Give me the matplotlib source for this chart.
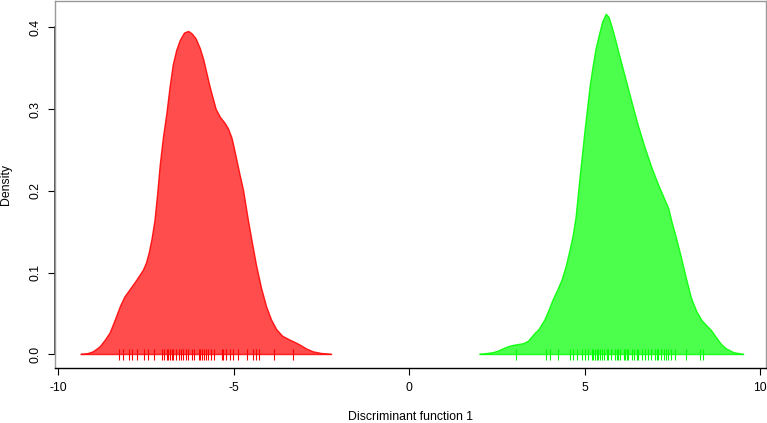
import matplotlib
matplotlib.use("Agg")
import matplotlib.pyplot as plt

plt.rcParams['font.family'] = ['Liberation Sans', 'DejaVu Sans']

# density curve of group 1
red_x = [-9.34, -9.15, -9.00, -8.90, -8.80, -8.66, -8.52, -8.38, -8.23, -8.10,
         -7.95, -7.80, -7.66, -7.57, -7.48, -7.40, -7.32, -7.24, -7.16, -7.09,
         -7.00, -6.90, -6.81, -6.72, -6.62, -6.52, -6.40, -6.28, -6.18, -6.07,
         -5.95, -5.85, -5.67, -5.50, -5.38, -5.25, -5.15, -5.05, -4.98, -4.91,
         -4.82, -4.72, -4.58, -4.46, -4.34, -4.20, -4.06, -3.92, -3.77, -3.60,
         -3.40, -3.25, -3.11, -2.92, -2.73, -2.50, -2.23]
red_y = [0.0, 0.0008, 0.003, 0.006, 0.0093, 0.017, 0.026, 0.041, 0.058, 0.070,
         0.079, 0.088, 0.097, 0.103, 0.112, 0.125, 0.142, 0.164, 0.198, 0.232,
         0.265, 0.295, 0.327, 0.354, 0.372, 0.384, 0.393, 0.395, 0.392, 0.386,
         0.374, 0.360, 0.327, 0.300, 0.290, 0.283, 0.276, 0.265, 0.252, 0.238,
         0.220, 0.201, 0.164, 0.135, 0.107, 0.080, 0.058, 0.042, 0.030, 0.022,
         0.0175, 0.0145, 0.0114, 0.0065, 0.003, 0.001, 0.0]

# density curve of group 2
green_x = [2.02, 2.20, 2.40, 2.55, 2.70, 2.85, 2.99, 3.13, 3.27, 3.40,
           3.51, 3.60, 3.70, 3.87, 3.98, 4.10, 4.23, 4.36, 4.48, 4.59,
           4.68, 4.76, 4.85, 4.95, 5.02, 5.09, 5.16, 5.24, 5.33, 5.43,
           5.52, 5.62, 5.70, 5.78, 5.87, 5.96, 6.15, 6.34, 6.53, 6.73,
           6.92, 7.11, 7.25, 7.40, 7.49, 7.60, 7.75, 7.90, 8.05, 8.20,
           8.35, 8.50, 8.60, 8.74, 8.90, 9.03, 9.25, 9.51]
green_y = [0.0, 0.0008, 0.002, 0.004, 0.007, 0.0095, 0.011, 0.012, 0.013, 0.016,
           0.0215, 0.026, 0.030, 0.042, 0.053, 0.066, 0.078, 0.091, 0.108, 0.128,
           0.146, 0.168, 0.207, 0.248, 0.276, 0.302, 0.328, 0.351, 0.374, 0.392,
           0.407, 0.416, 0.412, 0.401, 0.387, 0.372, 0.341, 0.310, 0.280, 0.252,
           0.228, 0.207, 0.193, 0.178, 0.162, 0.145, 0.120, 0.093, 0.068, 0.052,
           0.041, 0.034, 0.030, 0.0215, 0.012, 0.007, 0.002, 0.0]

# individual scores (rug)
red_rug = [-8.28, -8.14, -7.98, -7.89, -7.76, -7.54, -7.44, -7.26, -7.05, -6.98,
           -6.90, -6.86, -6.81, -6.76, -6.72, -6.65, -6.57, -6.50, -6.43, -6.35,
           -6.30, -6.19, -6.12, -6.00, -5.95, -5.89, -5.83, -5.78, -5.72, -5.64,
           -5.55, -5.34, -5.29, -5.21, -5.10, -5.02, -4.88, -4.62, -4.44, -4.37,
           -4.27, -3.84, -3.30]
green_rug = [3.05, 3.90, 4.02, 4.25, 4.59, 4.66, 4.78, 4.94, 5.01, 5.11,
             5.21, 5.25, 5.30, 5.35, 5.39, 5.44, 5.49, 5.56, 5.63, 5.68,
             5.75, 5.87, 5.92, 5.96, 6.01, 6.11, 6.15, 6.20, 6.25, 6.34,
             6.42, 6.49, 6.53, 6.63, 6.72, 6.82, 6.89, 7.01, 7.06, 7.10,
             7.17, 7.25, 7.32, 7.39, 7.46, 7.58, 7.89, 8.29, 8.37]

x_ticks = [-10, -5, 0, 5, 10]
y_ticks = [0.0, 0.1, 0.2, 0.3, 0.4]

fig = plt.figure(figsize=(7.67, 4.23), dpi=100)
ax = fig.add_axes([0.0717, 0.130, 0.927, 0.8676])

for xs, ys, rug, col in [(red_x, red_y, red_rug, '#ff0000'),
                         (green_x, green_y, green_rug, '#00ff00')]:
    ax.fill(xs, ys, facecolor=col, alpha=0.7, edgecolor='none')
    ax.plot(xs, ys, color=col, lw=1.0, alpha=0.85, solid_joinstyle='round')
    ax.plot([xs[0], xs[-1]], [0, 0], color=col, lw=1.0, alpha=0.85)
    ax.vlines(rug, -0.007, 0.006, color=col, lw=0.8)

ax.set_xlim(-10.09, 10.17)
ax.set_ylim(-0.0168, 0.4322)

ax.set_xticks(x_ticks)
ax.set_xticklabels(['-10', '-5', '0', '5', '10'])
ax.set_yticks(y_ticks)
ax.set_yticklabels(['0.0', '0.1', '0.2', '0.3', '0.4'], rotation=90, va='center')
ax.tick_params(direction='out', length=5, width=0.8, labelsize=8.8, color='black')
ax.tick_params(axis='x', pad=5)
ax.tick_params(axis='y', pad=5)

for side in ['top', 'right', 'left']:
    ax.spines[side].set_color('#999999')
    ax.spines[side].set_linewidth(1.0)
ax.spines['bottom'].set_color('black')
ax.spines['bottom'].set_linewidth(1.0)
# R style axis line over the tick range
ax.plot([0, 0], [0, 0.4], color='#333333', lw=1.2,
        transform=ax.get_yaxis_transform(), clip_on=False)

ax.set_xlabel('Discriminant function 1', fontsize=8.8, labelpad=12)
ax.set_ylabel('Density', fontsize=8.8)
ax.yaxis.set_label_coords(-0.060, 0.5)

fig.savefig('out.png', dpi=100)
